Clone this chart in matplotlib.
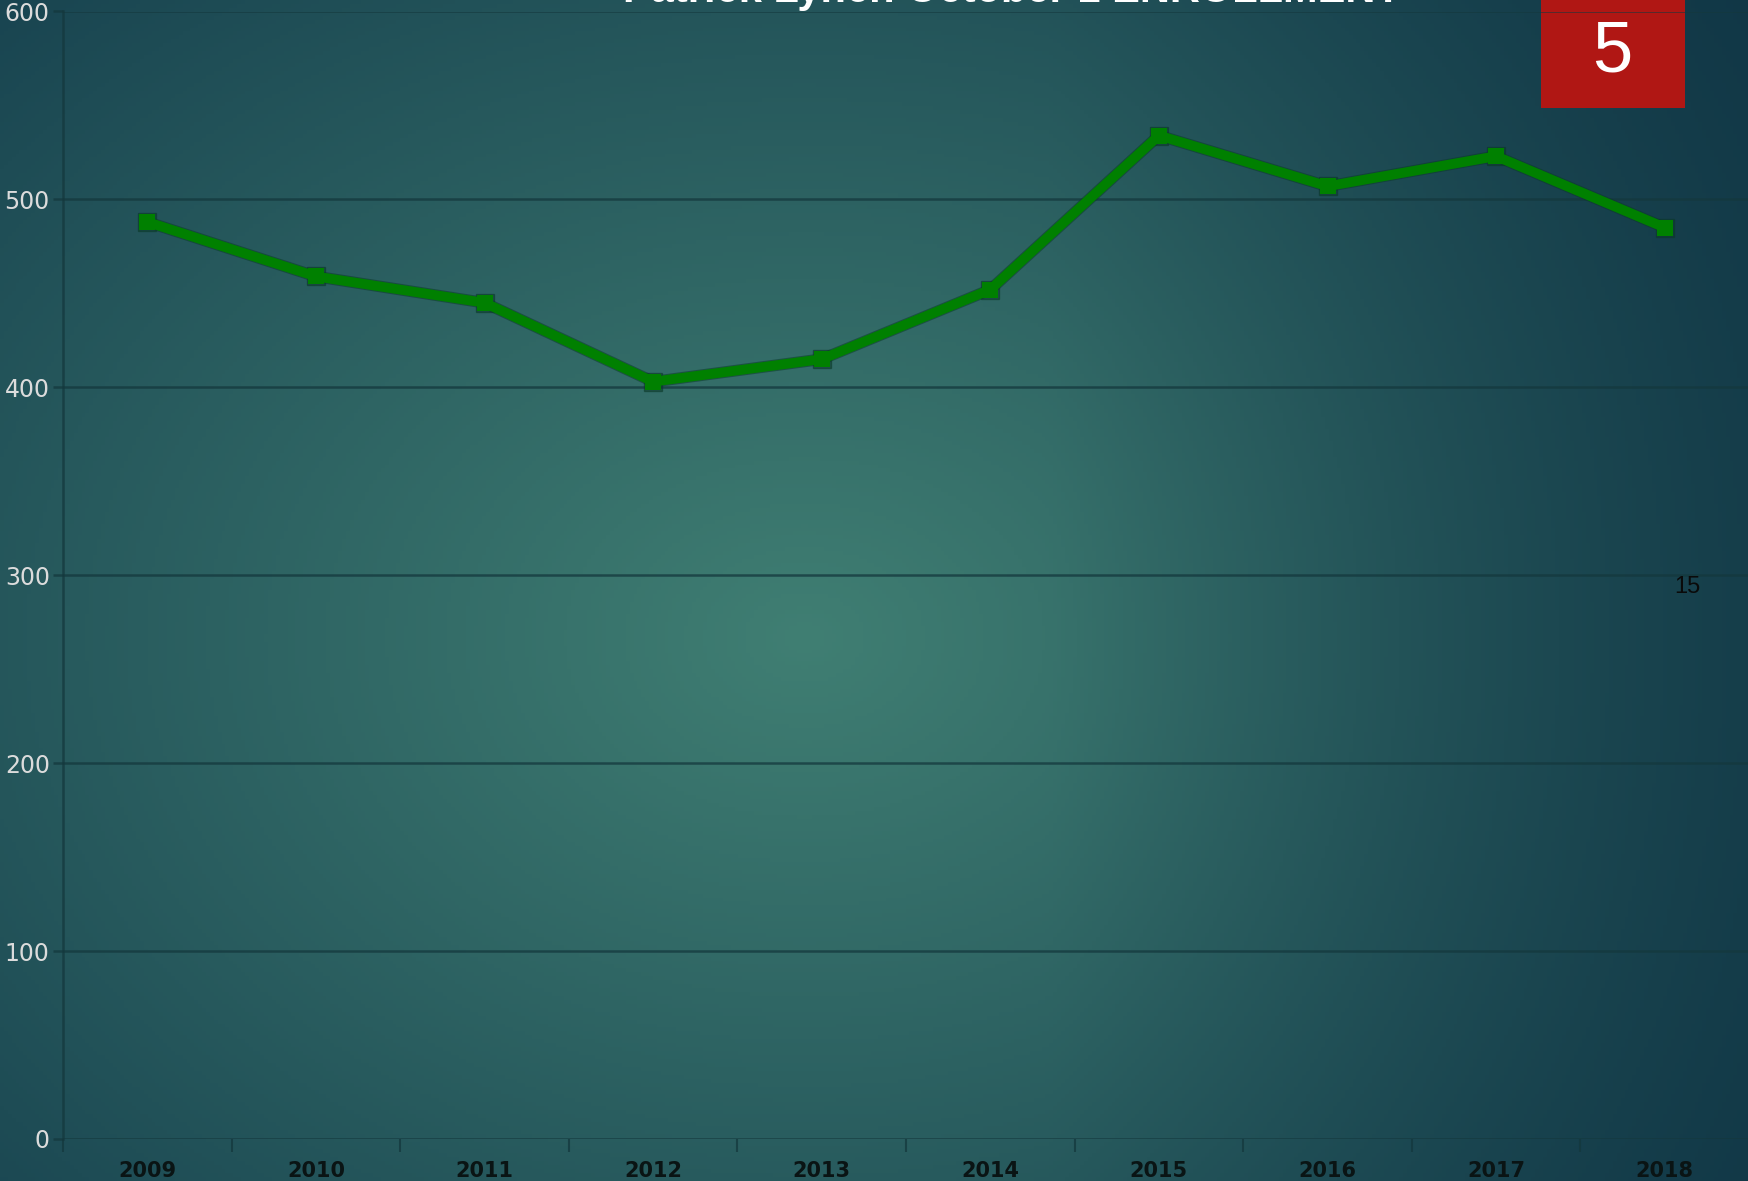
import numpy as np
import matplotlib
matplotlib.use("Agg")
import matplotlib.pyplot as plt
from matplotlib.patches import Rectangle

years = ["2009", "2010", "2011", "2012", "2013", "2014", "2015", "2016", "2017", "2018"]
enrollment = [488, 459, 445, 403, 415, 452, 534, 507, 523, 485]
y_ticks = [0, 100, 200, 300, 400, 500, 600]
title = "Patrick Lynch October 1 ENROLLMENT"
slide_number = "5"
note_text = "15"

W, H, DPI = 1749, 1181, 100
fig = plt.figure(figsize=(W / DPI, H / DPI), dpi=DPI)

# background radial gradient
bg = fig.add_axes([0, 0, 1, 1], zorder=0)
bg.set_axis_off()
yy, xx = np.mgrid[0:1:300j, 0:1:450j]
cx, cy = 0.46, 0.54
d = np.sqrt(((xx - cx) / 0.72) ** 2 + ((yy - cy) / 0.8) ** 2)
d = np.clip(d, 0, 1)
center = np.array([64, 127, 115]) / 255
edge = np.array([22, 64, 78]) / 255
t = d[..., None] ** 1.0
img = center * (1 - t) + edge * t
# extra darkening toward the right side
r = np.clip((xx - 0.6) / 0.4, 0, 1)[..., None]
dark = np.array([14, 50, 66]) / 255
img = img * (1 - 0.6 * r) + dark * 0.6 * r
bg.imshow(img, extent=[0, 1, 0, 1], aspect="auto", origin="upper")
bg.set_xlim(0, 1)
bg.set_ylim(0, 1)

left = 63 / W
bottom = 1 - 1139 / H
top = 1 - 11.5 / H
ax = fig.add_axes([left, bottom, 1 - left, top - bottom], zorder=2)
ax.set_facecolor("none")

x = np.arange(len(years))
grid_col = (0.08, 0.22, 0.24, 0.75)
for v in y_ticks:
    ax.axhline(v, color=grid_col, lw=1.8, zorder=3)

ax.plot(x, enrollment, color="#0b3a2a", lw=8.4, alpha=0.55, zorder=4,
        marker="s", markersize=12.5, solid_joinstyle="miter")
ax.plot(x, enrollment, color="#008000", lw=7.0, zorder=5,
        marker="s", markersize=11, markeredgewidth=0, solid_joinstyle="miter")

ax.set_xlim(-0.5, len(years) - 0.5)
ax.set_ylim(0, 600)
ax.set_xticks(x)
ax.set_xticklabels(years)
ax.set_xticks(np.arange(-0.5, len(years)), minor=True)
ax.set_yticks(y_ticks)
ax.tick_params(axis="x", which="major", length=0, pad=16, labelsize=15,
               labelcolor="#0a1414")
for lab in ax.get_xticklabels():
    lab.set_fontweight("bold")
ax.tick_params(axis="x", which="minor", length=9, width=1.5, color=grid_col)
ax.tick_params(axis="y", length=7, width=1.8, color=grid_col, pad=2.5,
               labelsize=17, labelcolor="#dcdcdc")
for s in ["top", "right", "bottom"]:
    ax.spines[s].set_visible(False)
ax.spines["left"].set_color(grid_col)
ax.spines["left"].set_linewidth(1.8)

# red slide-number box (under gridlines)
fig.patches.append(Rectangle((1541 / W, 1 - 108 / H), 144 / W, 108 / H + 0.01,
                             transform=fig.transFigure, facecolor="#b01714",
                             edgecolor="none", zorder=1))
fig.text(1612 / W, 1 - 53 / H, slide_number, color="white", fontsize=52,
         family="Liberation Sans", ha="center", va="center", zorder=3)

# title, mostly cut off at the top
fig.text(1012 / W, 1 - 2 / H, title, color="white", fontsize=30,
         fontweight="bold", family="Liberation Sans", ha="center",
         va="baseline", zorder=3)

fig.text(1687 / W, 1 - 587 / H, note_text, color="#0a0a0a", fontsize=17,
         family="Liberation Sans", ha="center", va="center", zorder=3)

fig.savefig("out.png", dpi=DPI)
